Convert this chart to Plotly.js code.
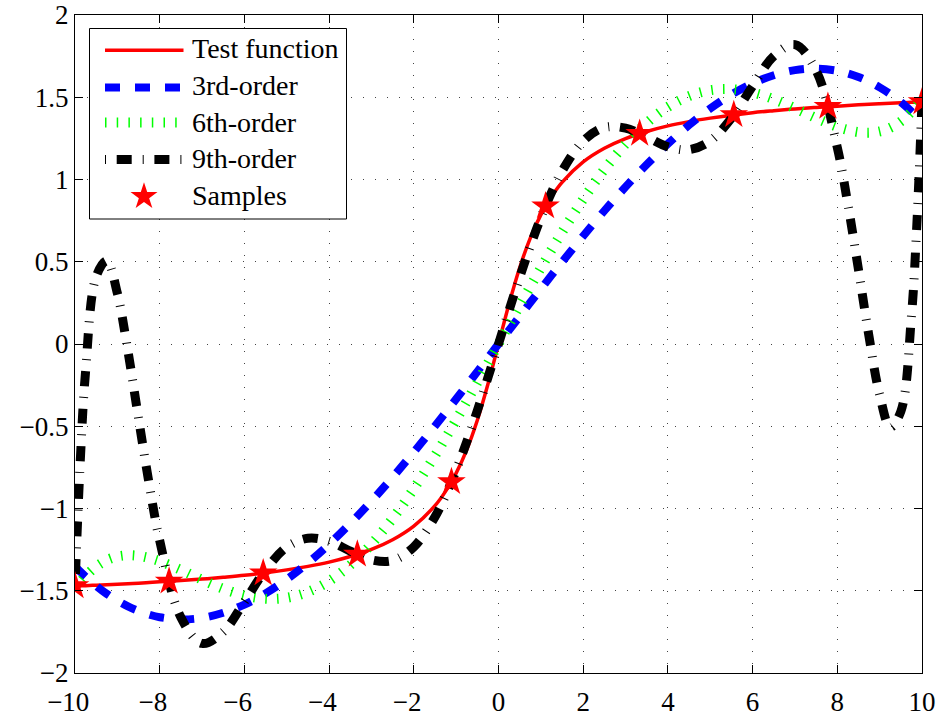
<!DOCTYPE html>
<html>
<head>
<meta charset="utf-8">
<script src="https://cdn.plot.ly/plotly-3.0.1.min.js"></script>
<style>html,body{margin:0;padding:0;background:#fff;}#chart{width:938px;height:718px;}</style>
</head>
<body>
<div id="chart"></div>
<script>
// x positions at which the curves were read
var xs = [-10, -9.875, -9.75, -9.5, -9.25, -9, -8.75, -8.5, -8.25, -8, -7.5, -7, -6.5, -6, -5.5, -5, -4.5, -4, -3.5, -3, -2.5, -2, -1.5, -1.25, -1, -0.75, -0.5, -0.25,
  0, 0.25, 0.5, 0.75, 1, 1.25, 1.5, 2, 2.5, 3, 3.5, 4, 4.5, 5, 5.5, 6, 6.5, 7, 7.5, 8, 8.25, 8.5, 8.75, 9, 9.25, 9.5, 9.75, 9.875, 10];

var testFunction = [-1.471, -1.470, -1.469, -1.466, -1.463, -1.460, -1.457, -1.454, -1.450, -1.446, -1.438, -1.429, -1.418, -1.406, -1.391, -1.373, -1.352, -1.326, -1.292, -1.249, -1.190, -1.107, -0.983, -0.896, -0.785, -0.644, -0.464, -0.245,
  0, 0.245, 0.464, 0.644, 0.785, 0.896, 0.983, 1.107, 1.190, 1.249, 1.292, 1.326, 1.352, 1.373, 1.391, 1.406, 1.418, 1.429, 1.438, 1.446, 1.450, 1.454, 1.457, 1.460, 1.463, 1.466, 1.469, 1.470, 1.471];

var order3 = [-1.351, -1.384, -1.414, -1.470, -1.519, -1.560, -1.595, -1.623, -1.645, -1.661, -1.674, -1.665, -1.634, -1.584, -1.516, -1.431, -1.331, -1.217, -1.091, -0.955, -0.810, -0.657, -0.498, -0.417, -0.334, -0.252, -0.168, -0.084,
  0, 0.084, 0.168, 0.252, 0.334, 0.417, 0.498, 0.657, 0.810, 0.955, 1.091, 1.217, 1.331, 1.431, 1.516, 1.584, 1.634, 1.665, 1.674, 1.661, 1.645, 1.623, 1.595, 1.560, 1.519, 1.470, 1.414, 1.384, 1.351];

var order6 = [-1.491, -1.448, -1.411, -1.353, -1.314, -1.292, -1.284, -1.288, -1.301, -1.320, -1.373, -1.433, -1.488, -1.529, -1.549, -1.543, -1.507, -1.441, -1.344, -1.216, -1.061, -0.880, -0.679, -0.572, -0.462, -0.349, -0.234, -0.117,
  0, 0.117, 0.234, 0.349, 0.462, 0.572, 0.679, 0.880, 1.061, 1.216, 1.344, 1.441, 1.507, 1.543, 1.549, 1.529, 1.488, 1.433, 1.373, 1.320, 1.301, 1.288, 1.284, 1.292, 1.314, 1.353, 1.411, 1.448, 1.491];

var order9 = [-1.471, -0.709, -0.166, 0.410, 0.505, 0.309, -0.044, -0.452, -0.849, -1.195, -1.662, -1.820, -1.750, -1.567, -1.373, -1.235, -1.181, -1.199, -1.259, -1.312, -1.316, -1.234, -1.051, -0.920, -0.767, -0.594, -0.405, -0.205,
  0, 0.205, 0.405, 0.594, 0.767, 0.920, 1.051, 1.234, 1.316, 1.312, 1.259, 1.199, 1.181, 1.235, 1.373, 1.567, 1.750, 1.820, 1.662, 1.195, 0.849, 0.452, 0.044, -0.309, -0.505, -0.410, 0.166, 0.709, 1.471];

var sampleX = [-10, -7.778, -5.556, -3.333, -1.111, 1.111, 3.333, 5.556, 7.778, 10];
var sampleY = [-1.471, -1.443, -1.393, -1.279, -0.838, 0.838, 1.279, 1.393, 1.443, 1.471];

var seriesNames = ['Test function', '3rd-order', '6th-order', '9th-order', 'Samples'];
var xTicks = [-10, -8, -6, -4, -2, 0, 2, 4, 6, 8, 10];
var xTickLabels = ['\u221210', '\u22128', '\u22126', '\u22124', '\u22122', '0', '2', '4', '6', '8', '10'];
var yTicks = [-2, -1.5, -1, -0.5, 0, 0.5, 1, 1.5, 2];
var yTickLabels = ['\u22122', '\u22121.5', '\u22121', '\u22120.5', '0', '0.5', '1', '1.5', '2'];

var FONT = 'Liberation Serif, Times New Roman, serif';
var RED = '#ff0000', BLUE = '#0000ff', GREEN = '#00ff00', BLACK = '#000000';
var STAR_SIZE = 21.5;

// line styles shared by plot and hand-drawn legend
var styles = [
  {color: RED, width: 3.5, dash: 'solid'},
  {color: BLUE, width: 8, dash: '15px,15px'},
  {color: GREEN, width: 10, dash: '1.5px,10.2px'},
  {color: BLACK, width: 9, dash: '1px,10.7px,15px,11px'}
];
var series = [testFunction, order3, order6, order9];

var traces = series.map(function (ys, i) {
  return {x: xs, y: ys, name: seriesNames[i], mode: 'lines', showlegend: false,
          line: {color: styles[i].color, width: styles[i].width, dash: styles[i].dash, shape: 'spline', smoothing: 1}};
});
traces.push({x: sampleX, y: sampleY, name: seriesNames[4], mode: 'markers', showlegend: false,
             marker: {symbol: 'star', size: STAR_SIZE, color: RED, line: {width: 0}}});

// plot-area geometry in pixels
var M = {l: 75, r: 16, t: 15, b: 45};
var W = 938, H = 718;
var PW = W - M.l - M.r, PH = H - M.t - M.b;
function px(x) { return (x - M.l) / PW; }
function py(y) { return (H - M.b - y) / PH; }

// legend (drawn by hand so that its sample lines are long, as in the reference)
var shapes = [];
var annotations = [];
shapes.push({type: 'rect', xref: 'paper', yref: 'paper', layer: 'above',
  x0: px(89.5), x1: px(346.5), y0: py(219), y1: py(28.5),
  line: {color: '#000', width: 1}, fillcolor: '#fff'});
var lineRows = [50.3, 87.5, 122.5, 159.5];
var textRows = [48, 86, 122, 158, 195];
for (var i = 0; i < 4; i++) {
  shapes.push({type: 'line', xref: 'paper', yref: 'paper', layer: 'above',
    x0: px(105), x1: px(183.5), y0: py(lineRows[i]), y1: py(lineRows[i]),
    line: {color: styles[i].color, width: styles[i].width, dash: styles[i].dash}});
}
// legend star glyph (same outline as plotly's star symbol)
(function () {
  var cx = 144, cy = 196.5, rs = 14.2;
  var pts = [[0.225562, -0.309017], [0.951057, -0.309017], [0.363271, 0.118034], [0.587785, 0.809017], [0, 0.381966],
             [-0.587785, 0.809017], [-0.363271, 0.118034], [-0.951057, -0.309017], [-0.225562, -0.309017], [0, -1]];
  var d = pts.map(function (p, k) {
    return (k === 0 ? 'M' : 'L') + px(cx + p[0] * rs).toFixed(5) + ',' + py(cy + p[1] * rs).toFixed(5);
  }).join(' ') + ' Z';
  shapes.push({type: 'path', xref: 'paper', yref: 'paper', layer: 'above', path: d,
    fillcolor: RED, line: {width: 0}});
})();
for (var j = 0; j < 5; j++) {
  annotations.push({xref: 'paper', yref: 'paper', x: px(190), y: py(textRows[j]), xanchor: 'left', yanchor: 'middle',
    text: seriesNames[j], showarrow: false, font: {family: FONT, size: 28, color: '#000'}});
}

// tick labels: negative numbers are centred on their digits, the minus sign hangs left
var xTickText = xTickLabels.map(function (s) { return s.charAt(0) === '\u2212' ? s + '\u2002' : s; });

var axisCommon = {
  showline: true, linecolor: '#000', linewidth: 1, mirror: 'ticks',
  ticks: 'inside', ticklen: 8, tickwidth: 1, tickcolor: '#000',
  showgrid: true, gridcolor: '#444', gridwidth: 1, griddash: '1px,11px',
  zeroline: false, tickfont: {family: FONT, size: 27, color: '#000'}, tickmode: 'array'
};

var layout = {
  width: W, height: H,
  margin: M,
  paper_bgcolor: '#fff', plot_bgcolor: '#fff',
  font: {family: FONT, size: 27, color: '#000'},
  xaxis: Object.assign({}, axisCommon, {range: [-10, 10], tickvals: xTicks, ticktext: xTickText, ticklabelstandoff: 5}),
  yaxis: Object.assign({}, axisCommon, {range: [-2, 2], tickvals: yTicks, ticktext: yTickLabels}),
  showlegend: false,
  shapes: shapes,
  annotations: annotations
};

Plotly.newPlot('chart', traces, layout, {displayModeBar: false, staticPlot: true});
</script>
</body>
</html>
